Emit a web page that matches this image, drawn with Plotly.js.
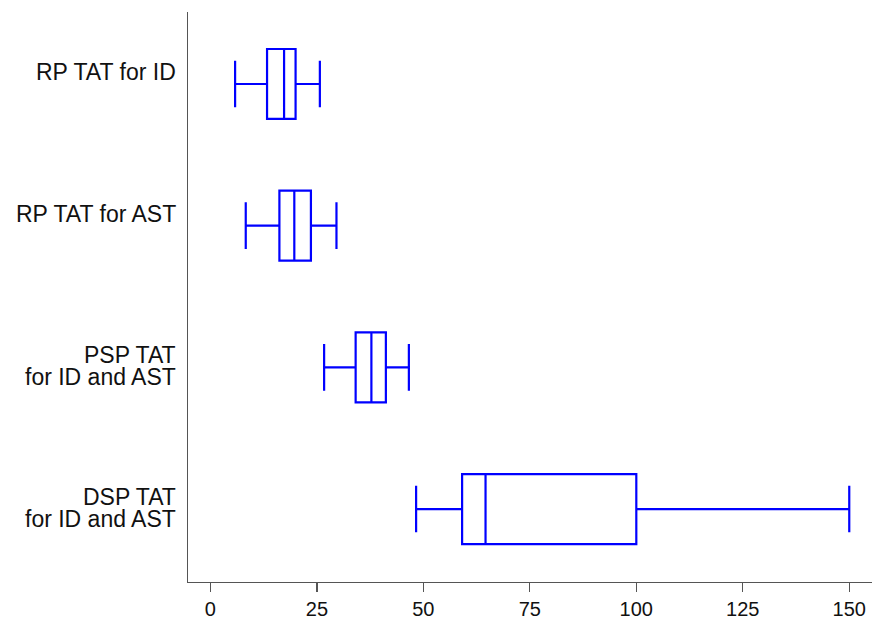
<!DOCTYPE html>
<html>
<head>
<meta charset="utf-8">
<script src="https://cdn.plot.ly/plotly-3.0.1.min.js"></script>
<style>html,body{margin:0;padding:0;background:#fff;}#chart{width:874px;height:622px;}</style>
</head>
<body>
<div id="chart"></div>
<script>
const categories = ["RP TAT for ID", "RP TAT for AST", "PSP TAT<br>for ID and AST", "DSP TAT<br>for ID and AST"];
const lowerWhisker = [5.8, 8.3, 26.7, 48.3];
const q1 = [13.3, 16.2, 34.1, 59.1];
const median = [17.3, 19.7, 37.8, 64.6];
const q3 = [20.0, 23.6, 41.2, 100];
const upperWhisker = [25.7, 29.6, 46.6, 150];
const xTicks = [0, 25, 50, 75, 100, 125, 150];

const trace = {
  type: 'box',
  orientation: 'h',
  y: categories,
  q1: q1,
  median: median,
  q3: q3,
  lowerfence: lowerWhisker,
  upperfence: upperWhisker,
  boxpoints: false,
  width: 0.494,
  whiskerwidth: 0.667,
  line: {color: '#0000ff', width: 2.2},
  fillcolor: 'rgba(0,0,0,0)',
  hoverinfo: 'none'
};

const annotations = [];
categories.forEach((c, i) => {
  const lines = c.split('<br>');
  lines.forEach((t, j) => {
    annotations.push({
      xref: 'paper', yref: 'y', x: 0, y: c,
      xanchor: 'right', yanchor: 'middle',
      xshift: -10, yshift: j === 0 ? 12 : -10,
      text: t, showarrow: false,
      font: {family: 'Liberation Sans, Arial, sans-serif', size: 23, color: '#111'}
    });
  });
});

const layout = {
  width: 874, height: 622,
  margin: {l: 188, r: 2, t: 12, b: 40},
  paper_bgcolor: '#fff', plot_bgcolor: '#fff',
  showlegend: false,
  font: {family: 'Liberation Sans, Arial, sans-serif', size: 20, color: '#111'},
  xaxis: {
    range: [-5.26, 155.34],
    tickvals: xTicks, ticktext: xTicks.map(String),
    showgrid: false, zeroline: false,
    showline: true, linecolor: '#555', linewidth: 1.3,
    ticks: 'outside', ticklen: 9, tickcolor: '#555', tickwidth: 1.3,
    tickfont: {size: 20, color: '#111'}
  },
  yaxis: {
    type: 'category', categoryarray: categories, categoryorder: 'array',
    range: [3.515, -0.508],
    showticklabels: false, ticks: '',
    showgrid: false, zeroline: false,
    showline: true, linecolor: '#555', linewidth: 1.3
  },
  annotations: annotations
};

Plotly.newPlot('chart', [trace], layout, {staticPlot: true, displayModeBar: false});
</script>
</body>
</html>
